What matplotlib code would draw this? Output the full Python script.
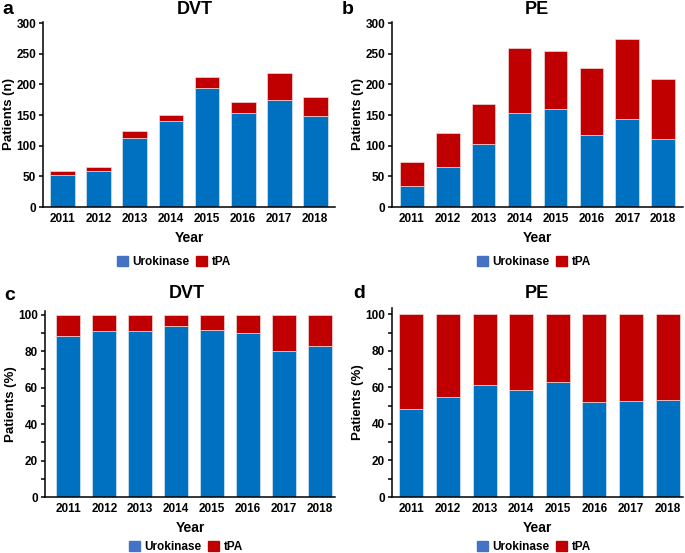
import numpy as np
import matplotlib
matplotlib.use('Agg')
import matplotlib.pyplot as plt
from matplotlib.patches import Patch

# ── colours ───────────────────────────────────────────────────────────
BLUE = '#0070C0'
RED = '#C00000'
LEG_BLUE = '#4472C4'

plt.rcParams.update({
    'font.family': 'Liberation Sans',
    'font.weight': 'bold',
    'axes.spines.top': False,
    'axes.spines.right': False,
    'axes.linewidth': 1.1,
    'xtick.major.width': 1.1,
    'ytick.major.width': 1.1,
    'ytick.minor.width': 1.1,
    'xtick.major.size': 3,
    'ytick.major.size': 3,
    'ytick.minor.size': 3,
    'xtick.labelsize': 8.5,
    'ytick.labelsize': 8.5,
})

# ── data ──────────────────────────────────────────────────────────────
years = ['2011', '2012', '2013', '2014', '2015', '2016', '2017', '2018']
dvt_uk = np.array([52, 59, 113, 141, 195, 154, 175, 149])
dvt_tpa = np.array([7, 6, 11, 9, 18, 17, 44, 31])
pe_uk = np.array([35, 66, 103, 153, 160, 118, 144, 111])
pe_tpa = np.array([38, 54, 65, 107, 95, 109, 131, 98])

W, H = 685, 553


def px_axes(fig, left, right, top, bottom):
    return fig.add_axes([left / W, 1 - bottom / H, (right - left) / W, (bottom - top) / H])


def draw(ax, uk, tpa, ylim, major, minor, ylabel, xlim, width):
    x = np.arange(len(years))
    ax.bar(x, uk, width, color=BLUE, edgecolor='#d8e4f0', linewidth=0.5)
    ax.bar(x, tpa, width, bottom=uk, color=RED, edgecolor='#f0d8d8', linewidth=0.5)
    ax.set_xlim(*xlim)
    ax.set_ylim(0, ylim)
    ax.set_yticks(major)
    if minor is not None:
        ax.set_yticks(minor, minor=True)
    ax.set_xticks(x)
    ax.set_xticklabels(years)
    ax.tick_params(axis='x', length=0, pad=4)
    ax.tick_params(axis='y', pad=2)
    ax.set_xlabel('Year', fontsize=10, fontweight='bold', labelpad=5)
    ax.set_ylabel(ylabel, fontsize=9.5, fontweight='bold', labelpad=0.5)
    for lab in ax.get_xticklabels() + ax.get_yticklabels():
        lab.set_fontweight('bold')


def legend(fig, xc, yc):
    handles = [Patch(color=LEG_BLUE, label='Urokinase'), Patch(color=RED, label='tPA')]
    fig.legend(handles=handles, loc='center', bbox_to_anchor=(xc / W, 1 - yc / H),
               ncol=2, frameon=False, handlelength=0.9, handleheight=0.9,
               handletextpad=0.4, columnspacing=0.6, prop={'weight': 'bold', 'size': 8.5})


fig = plt.figure(figsize=(W / 100, H / 100), dpi=100)

ax_a = px_axes(fig, 43, 335, 22, 207)
draw(ax_a, dvt_uk, dvt_tpa, 302, np.arange(0, 301, 50), None, 'Patients (n)',
     (-0.55, 7.55), 0.69)
ax_b = px_axes(fig, 392, 683, 22, 207)
draw(ax_b, pe_uk, pe_tpa, 302, np.arange(0, 301, 50), None, 'Patients (n)',
     (-0.55, 7.55), 0.66)

dvt_tot = dvt_uk + dvt_tpa
pe_tot = pe_uk + pe_tpa
ax_c = px_axes(fig, 45, 335, 311, 497)
draw(ax_c, dvt_uk / dvt_tot * 100, dvt_tpa / dvt_tot * 100, 102,
     np.arange(0, 101, 20), np.arange(10, 100, 20), 'Patients (%)',
     (-0.65, 7.42), 0.66)
ax_d = px_axes(fig, 392, 683, 308, 497)
draw(ax_d, pe_uk / pe_tot * 100, pe_tpa / pe_tot * 100, 103.5,
     np.arange(0, 101, 20), np.arange(10, 100, 20), 'Patients (%)',
     (-0.53, 7.42), 0.66)

# panel letters and titles
for x, y, s in [(2, 10, 'a'), (342, 10, 'b'), (4, 295, 'c'), (353, 294, 'd')]:
    fig.text(x / W, 1 - y / H, s, fontsize=14, fontweight='bold', va='center', ha='left')
for x, y, s in [(195, 10, 'DVT'), (537, 10, 'PE'), (187, 294, 'DVT'), (537, 293, 'PE')]:
    fig.text(x / W, 1 - y / H, s, fontsize=13, fontweight='bold', va='center', ha='center')

legend(fig, 174, 262)
legend(fig, 534, 262)
legend(fig, 186, 547)
legend(fig, 534, 547)

fig.savefig('out.png', dpi=100)
